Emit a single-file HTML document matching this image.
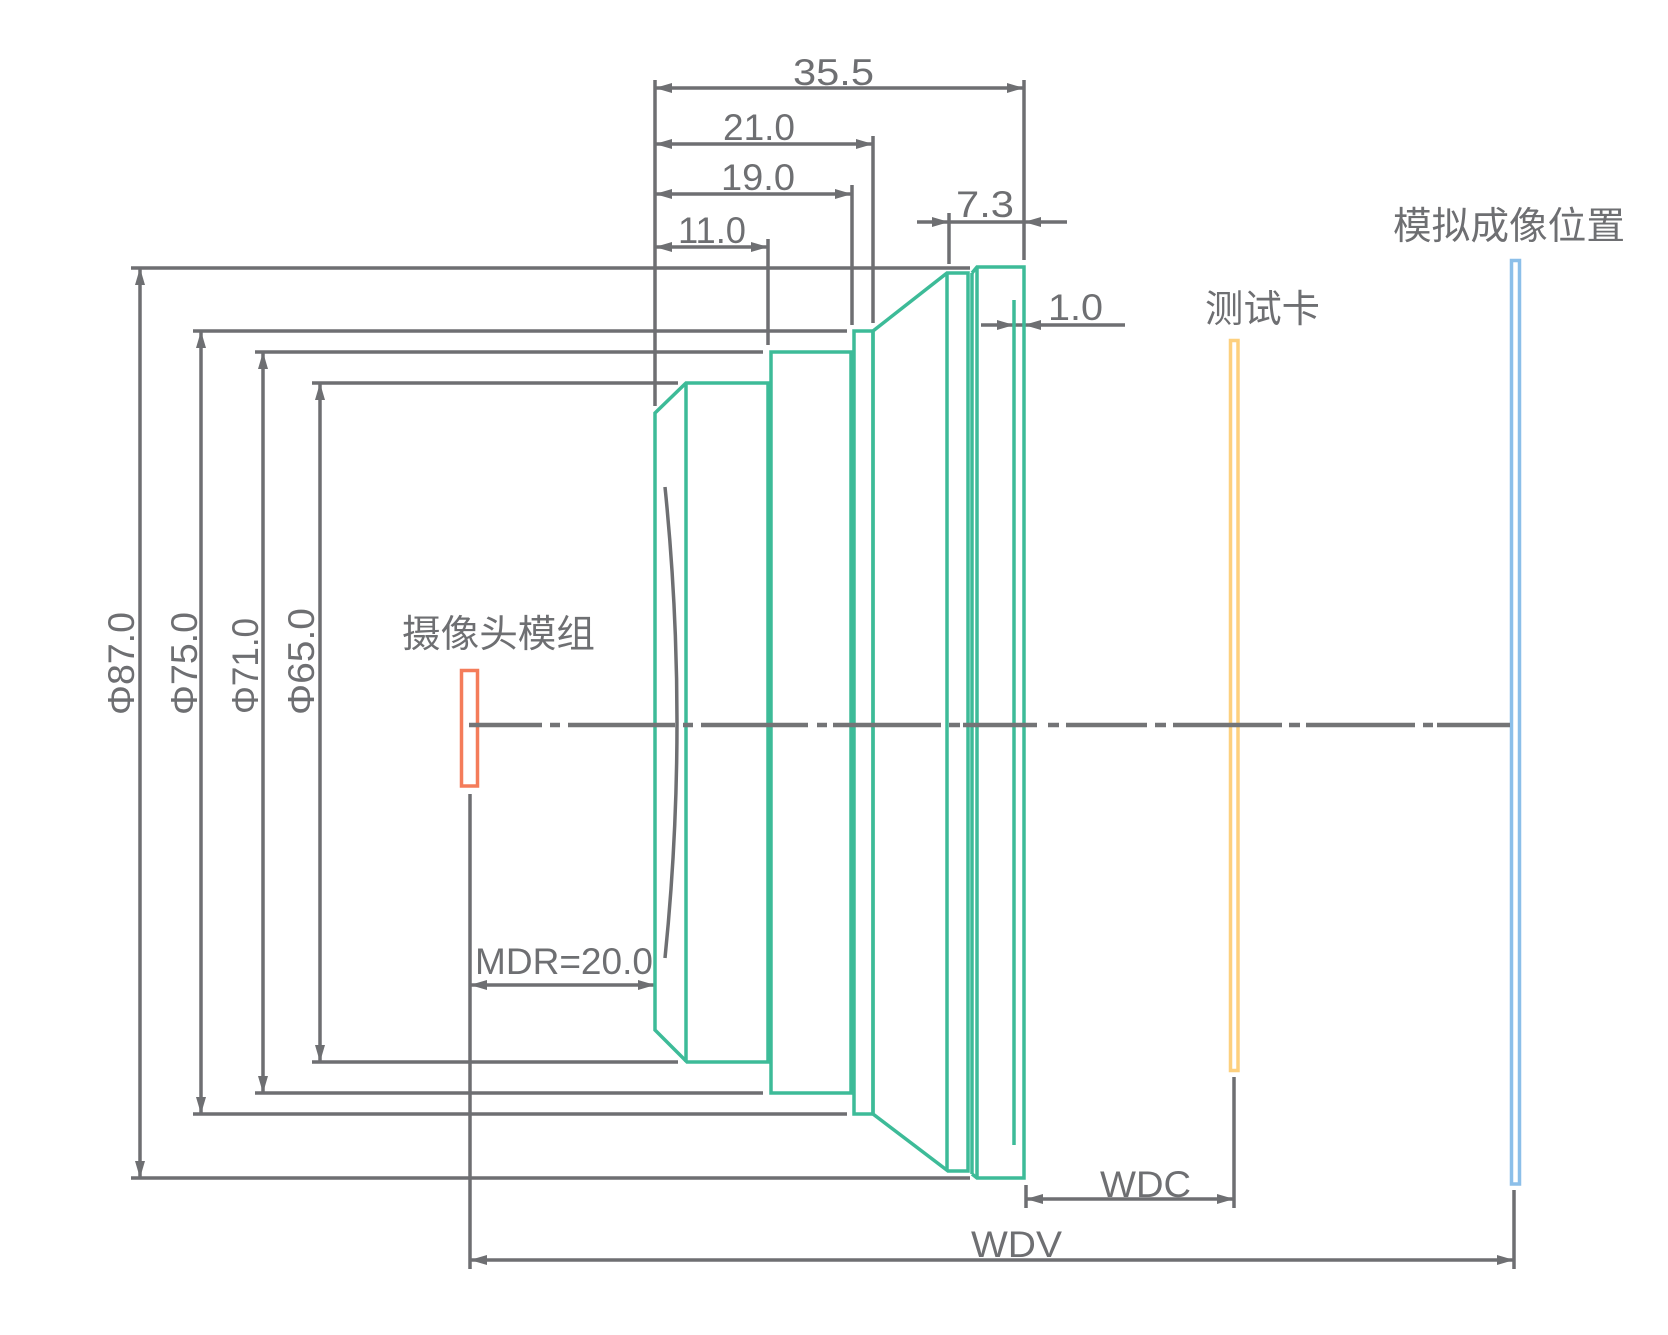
<!DOCTYPE html>
<html>
<head>
<meta charset="utf-8">
<style>
  html,body{margin:0;padding:0;background:#fff;}
  svg{display:block;}
  .t{font-family:"Liberation Sans","Noto Sans CJK SC",sans-serif;fill:#6e6f72;}
</style>
</head>
<body>
<svg width="1668" height="1335" viewBox="0 0 1668 1335" xmlns="http://www.w3.org/2000/svg">
<rect x="0" y="0" width="1668" height="1335" fill="#fff"/>

<!-- gray dimension / extension lines -->
<g stroke="#6e6f72" stroke-width="3.5" fill="none" stroke-linecap="butt">
  <line x1="131" y1="268" x2="970" y2="268"/>
  <line x1="193" y1="331" x2="847" y2="331"/>
  <line x1="255" y1="352" x2="763" y2="352"/>
  <line x1="312" y1="383" x2="678" y2="383"/>
  <line x1="312" y1="1062" x2="678" y2="1062"/>
  <line x1="255" y1="1093" x2="763" y2="1093"/>
  <line x1="193" y1="1114" x2="847" y2="1114"/>
  <line x1="131" y1="1178" x2="970" y2="1178"/>
  <line x1="140" y1="268" x2="140" y2="1178"/>
  <line x1="201" y1="331" x2="201" y2="1114"/>
  <line x1="263" y1="352" x2="263" y2="1093"/>
  <line x1="320" y1="383" x2="320" y2="1062"/>
  <line x1="655" y1="88" x2="1024" y2="88"/>
  <line x1="655" y1="144" x2="873" y2="144"/>
  <line x1="655" y1="194" x2="852" y2="194"/>
  <line x1="655" y1="247" x2="768" y2="247"/>
  <line x1="917" y1="222" x2="1067" y2="222"/>
  <line x1="981" y1="325" x2="1125" y2="325"/>
  <line x1="655" y1="80" x2="655" y2="406"/>
  <line x1="1024" y1="80" x2="1024" y2="260"/>
  <line x1="873" y1="136" x2="873" y2="323"/>
  <line x1="852" y1="185" x2="852" y2="325"/>
  <line x1="768" y1="239" x2="768" y2="345"/>
  <line x1="949" y1="213" x2="949" y2="264"/>
  <line x1="470" y1="794" x2="470" y2="1269"/>
  <line x1="470" y1="985" x2="655" y2="985"/>
  <line x1="1026" y1="1199" x2="1234" y2="1199"/>
  <line x1="1026" y1="1185" x2="1026" y2="1208"/>
  <line x1="1234" y1="1077" x2="1234" y2="1208"/>
  <line x1="470" y1="1260" x2="1514" y2="1260"/>
  <line x1="1514" y1="1190" x2="1514" y2="1269"/>
  <path d="M665,487 Q689,722.5 665,958"/>
</g>

<!-- arrowheads -->
<g fill="#6e6f72" stroke="none">
  <polygon points="140,268 135,285 145,285"/>
  <polygon points="140,1178 135,1161 145,1161"/>
  <polygon points="201,331 196,348 206,348"/>
  <polygon points="201,1114 196,1097 206,1097"/>
  <polygon points="263,352 258,369 268,369"/>
  <polygon points="263,1093 258,1076 268,1076"/>
  <polygon points="320,383 315,400 325,400"/>
  <polygon points="320,1062 315,1045 325,1045"/>
  <polygon points="655,88 672,83 672,93"/>
  <polygon points="1024,88 1007,83 1007,93"/>
  <polygon points="655,144 672,139 672,149"/>
  <polygon points="873,144 856,139 856,149"/>
  <polygon points="655,194 672,189 672,199"/>
  <polygon points="852,194 835,189 835,199"/>
  <polygon points="655,247 672,242 672,252"/>
  <polygon points="768,247 751,242 751,252"/>
  <polygon points="949,222 932,217 932,227"/>
  <polygon points="1024,222 1041,217 1041,227"/>
  <polygon points="1014,325 997,320 997,330"/>
  <polygon points="1024,325 1041,320 1041,330"/>
  <polygon points="470,985 487,980 487,990"/>
  <polygon points="655,985 638,980 638,990"/>
  <polygon points="1026,1199 1043,1194 1043,1204"/>
  <polygon points="1234,1199 1217,1194 1217,1204"/>
  <polygon points="470,1260 487,1255 487,1265"/>
  <polygon points="1514,1260 1497,1255 1497,1265"/>
</g>

<!-- green lens body -->
<g stroke="#3dbb98" stroke-width="3.5" fill="none" stroke-linejoin="miter">
  <polygon points="655,413 686,383 768,383 768,1062 687,1062 655,1030"/>
  <line x1="686" y1="383" x2="686" y2="1062"/>
  <polygon points="771,352 851,352 851,1093 771,1093"/>
  <polygon points="854,331 873,331 873,1114 854,1114"/>
  <polygon points="873,331 947,273 968,273 968,1171 948,1171 873,1114"/>
  <line x1="947" y1="273" x2="947" y2="1171"/>
  <line x1="972" y1="273" x2="972" y2="1174"/>
  <path d="M972,273 L977,267 L1024,267 L1024,1178 L977,1178 L972,1174"/>
  <line x1="977" y1="267" x2="977" y2="1178"/>
  <line x1="1014" y1="300" x2="1014" y2="1145"/>
</g>

<!-- coloured planes -->
<rect x="461.5" y="670.5" width="16" height="115.5" fill="none" stroke="#f47c5a" stroke-width="3.5"/>
<rect x="1230.5" y="340.5" width="7.5" height="730" fill="none" stroke="#fdd07e" stroke-width="3.5"/>
<rect x="1511.5" y="260.5" width="8" height="923.5" fill="none" stroke="#8cbfe9" stroke-width="3.5"/>

<!-- centre line (dash-dot) -->
<g stroke="#737476" stroke-width="4.5" stroke-linecap="butt">
  <line x1="469" y1="725" x2="542" y2="725"/>
  <line x1="550" y1="725" x2="560" y2="725"/>
  <line x1="568" y1="725" x2="675" y2="725"/>
  <line x1="683" y1="725" x2="693" y2="725"/>
  <line x1="701" y1="725" x2="808" y2="725"/>
  <line x1="817" y1="725" x2="827" y2="725"/>
  <line x1="833" y1="725" x2="941" y2="725"/>
  <line x1="949" y1="725" x2="960" y2="725"/>
  <line x1="963" y1="725" x2="1037" y2="725"/>
  <line x1="1048" y1="725" x2="1059" y2="725"/>
  <line x1="1066" y1="725" x2="1147" y2="725"/>
  <line x1="1155" y1="725" x2="1166" y2="725"/>
  <line x1="1173" y1="725" x2="1282" y2="725"/>
  <line x1="1289" y1="725" x2="1300" y2="725"/>
  <line x1="1306" y1="725" x2="1415" y2="725"/>
  <line x1="1423" y1="725" x2="1433" y2="725"/>
  <line x1="1437" y1="725" x2="1510" y2="725"/>
</g>

<!-- numeric labels -->
<g class="t" font-size="37">
  <text x="793" y="85" textLength="81" lengthAdjust="spacingAndGlyphs">35.5</text>
  <text x="723" y="140" textLength="72" lengthAdjust="spacingAndGlyphs">21.0</text>
  <text x="721" y="190" textLength="74" lengthAdjust="spacingAndGlyphs">19.0</text>
  <text x="678" y="243" textLength="68" lengthAdjust="spacingAndGlyphs">11.0</text>
  <text x="956" y="217" textLength="58" lengthAdjust="spacingAndGlyphs">7.3</text>
  <text x="1048" y="320" textLength="55" lengthAdjust="spacingAndGlyphs">1.0</text>
  <text x="475" y="974" textLength="178" lengthAdjust="spacingAndGlyphs">MDR=20.0</text>
  <text x="1100" y="1197" textLength="91" lengthAdjust="spacingAndGlyphs">WDC</text>
  <text x="971" y="1257" textLength="91" lengthAdjust="spacingAndGlyphs">WDV</text>
  <text transform="translate(134,715) rotate(-90)" textLength="103" lengthAdjust="spacingAndGlyphs">Φ87.0</text>
  <text transform="translate(197,715) rotate(-90)" textLength="103" lengthAdjust="spacingAndGlyphs">Φ75.0</text>
  <text transform="translate(258,714) rotate(-90)" textLength="96" lengthAdjust="spacingAndGlyphs">Φ71.0</text>
  <text transform="translate(314,715) rotate(-90)" textLength="107" lengthAdjust="spacingAndGlyphs">Φ65.0</text>
</g>

<!-- CJK labels -->
<g class="t" font-size="38">
  <text x="402" y="647" textLength="193" lengthAdjust="spacingAndGlyphs">摄像头模组</text>
  <text x="1205" y="322" textLength="115" lengthAdjust="spacingAndGlyphs">测试卡</text>
  <text x="1393" y="239" textLength="232" lengthAdjust="spacingAndGlyphs">模拟成像位置</text>
</g>
</svg>
</body>
</html>
